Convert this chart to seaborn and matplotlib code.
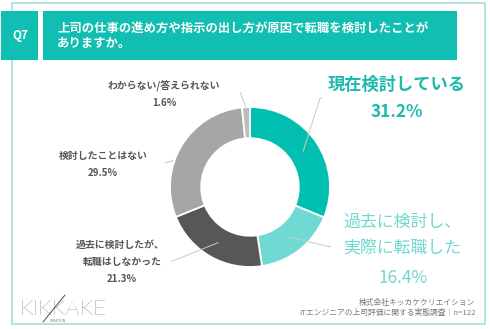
import matplotlib
matplotlib.use("Agg")
import matplotlib.pyplot as plt
from matplotlib.patches import Rectangle
from matplotlib.lines import Line2D
import numpy as np
import seaborn as sns

sns.set_theme(style="white")
plt.rcParams['font.family'] = ['Noto Sans CJK JP', 'DejaVu Sans']

# Survey answers (clockwise from 12 o'clock)
categories = ["現在検討している", "過去に検討し、\n実際に転職した", "過去に検討したが、\n転職はしなかった",
              "検討したことはない", "わからない/答えられない"]
values = [31.2, 16.4, 21.3, 29.5, 1.6]
colors = ["#00BFB1", "#6FDAD1", "#575757", "#A6A6A6", "#BDBDBD"]

question_no = "Q7"
question = "上司の仕事の進め方や指示の出し方が原因で転職を検討したことが\nありますか。"
source_lines = ["株式会社キッカケクリエイション", "ITエンジニアの上司評価に関する実態調査｜n=122"]
logo = "KIKKAKE"

W, H = 490, 329
fig = plt.figure(figsize=(W / 100, H / 100), dpi=100)
fig.patch.set_facecolor("white")


def fx(x):
    return x / W


def fy(y):
    return 1 - y / H


# outer frame
fig.add_artist(Rectangle((fx(12), fy(324)), fx(473), 321 / H, transform=fig.transFigure,
                         fill=False, edgecolor="#A8E3DE", linewidth=1.3))
# question header boxes
fig.add_artist(Rectangle((fx(1), fy(60)), fx(37), 49 / H, transform=fig.transFigure,
                         facecolor="#10BFB1", edgecolor="none"))
fig.add_artist(Rectangle((fx(43), fy(60)), fx(414), 49 / H, transform=fig.transFigure,
                         facecolor="#10BFB1", edgecolor="none"))
fig.text(fx(20), fy(36), question_no, color="white", fontsize=8.5, fontweight="bold",
         ha="center", va="center")
fig.text(fx(57), fy(36), question, color="white", fontsize=8.9, fontweight="bold",
         ha="left", va="center", linespacing=1.25)

# donut
cx, cy, R = 250, 187, 80
ax = fig.add_axes([fx(cx - R), fy(cy + R), 2 * R / W, 2 * R / H])
wedges, _ = ax.pie(values, colors=colors, startangle=90, counterclock=False, radius=1.0,
                   wedgeprops=dict(width=0.39, edgecolor="white", linewidth=1.3))
ax.set_xlim(-1, 1)
ax.set_ylim(-1, 1)
ax.set_aspect("auto")
ax.axis("off")

# leader lines: (start radius, end point in axis units)
leaders = [(0.8, [(0.875, 1.11), (0.9, 1.11)]),
           (0.8, [(1.01, -0.75)]),
           (0.8, [(-0.98, -0.93)]),
           (0.8, [(-1.06, 0.30)]),
           (1.0, [(-0.12, 1.18)])]
cum = np.cumsum([0] + values[:-1])
for v, c0, (r0, pts) in zip(values, cum, leaders):
    ang = np.deg2rad(90 - (c0 + v / 2) * 3.6)
    xs = [r0 * np.cos(ang)] + [p[0] for p in pts]
    ys = [r0 * np.sin(ang)] + [p[1] for p in pts]
    z = 0.5 if v == 29.5 else 3
    ax.plot(xs, ys, color="#C9C9C9", linewidth=0.7, clip_on=False, zorder=z)

# labels
teal, lteal, gray = "#1DB9AC", "#72D8CF", "#555555"
fig.text(fx(397), fy(85), categories[0], color=teal, fontsize=12.4, fontweight="bold",
         ha="center", va="center")
fig.text(fx(397), fy(112), f"{values[0]}%", color=teal, fontsize=12.4, fontweight="bold",
         ha="center", va="center")

l1, l2 = categories[1].split("\n")
fig.text(fx(402), fy(222), l1, color=lteal, fontsize=12.2, ha="center", va="center")
fig.text(fx(402), fy(249), l2, color=lteal, fontsize=12.2, ha="center", va="center")
fig.text(fx(403), fy(278), f"{values[1]}%", color=lteal, fontsize=12.4, ha="center", va="center")

d1, d2 = categories[2].split("\n")
fig.text(fx(120), fy(245), d1, color=gray, fontsize=7.1, fontweight="bold", ha="center", va="center")
fig.text(fx(122), fy(262), d2, color=gray, fontsize=7.1, fontweight="bold", ha="center", va="center")
fig.text(fx(122), fy(279), f"{values[2]}%", color=gray, fontsize=7.1, fontweight="bold",
         ha="center", va="center")

fig.text(fx(103), fy(156), categories[3], color=gray, fontsize=7.1, fontweight="bold",
         ha="center", va="center")
fig.text(fx(103), fy(173), f"{values[3]}%", color=gray, fontsize=7.1, fontweight="bold",
         ha="center", va="center")

fig.text(fx(164), fy(86), categories[4], color=gray, fontsize=7.1, fontweight="bold",
         ha="center", va="center")
fig.text(fx(164), fy(103), f"{values[4]}%", color=gray, fontsize=7.1, fontweight="bold",
         ha="center", va="center")

# source
fig.text(fx(475), fy(303), source_lines[0], color="#7A7A7A", fontsize=5.6, ha="right", va="center")
fig.text(fx(476), fy(313), source_lines[1], color="#7A7A7A", fontsize=5.6, ha="right", va="center")

# logo
fig.text(fx(19), fy(309), logo, color="#3F3F3F", fontsize=16, family="Lato",
         fontweight="light", ha="left", va="center")
fig.add_artist(Line2D([fx(43), fx(65)], [fy(322), fy(295)], transform=fig.transFigure,
                      color="#4A4A4A", linewidth=0.7))
fig.text(fx(58), fy(321.5), "CREATION", color="#777777", fontsize=2.4, ha="center", va="center")

fig.savefig("out.png", dpi=100, facecolor="white")
